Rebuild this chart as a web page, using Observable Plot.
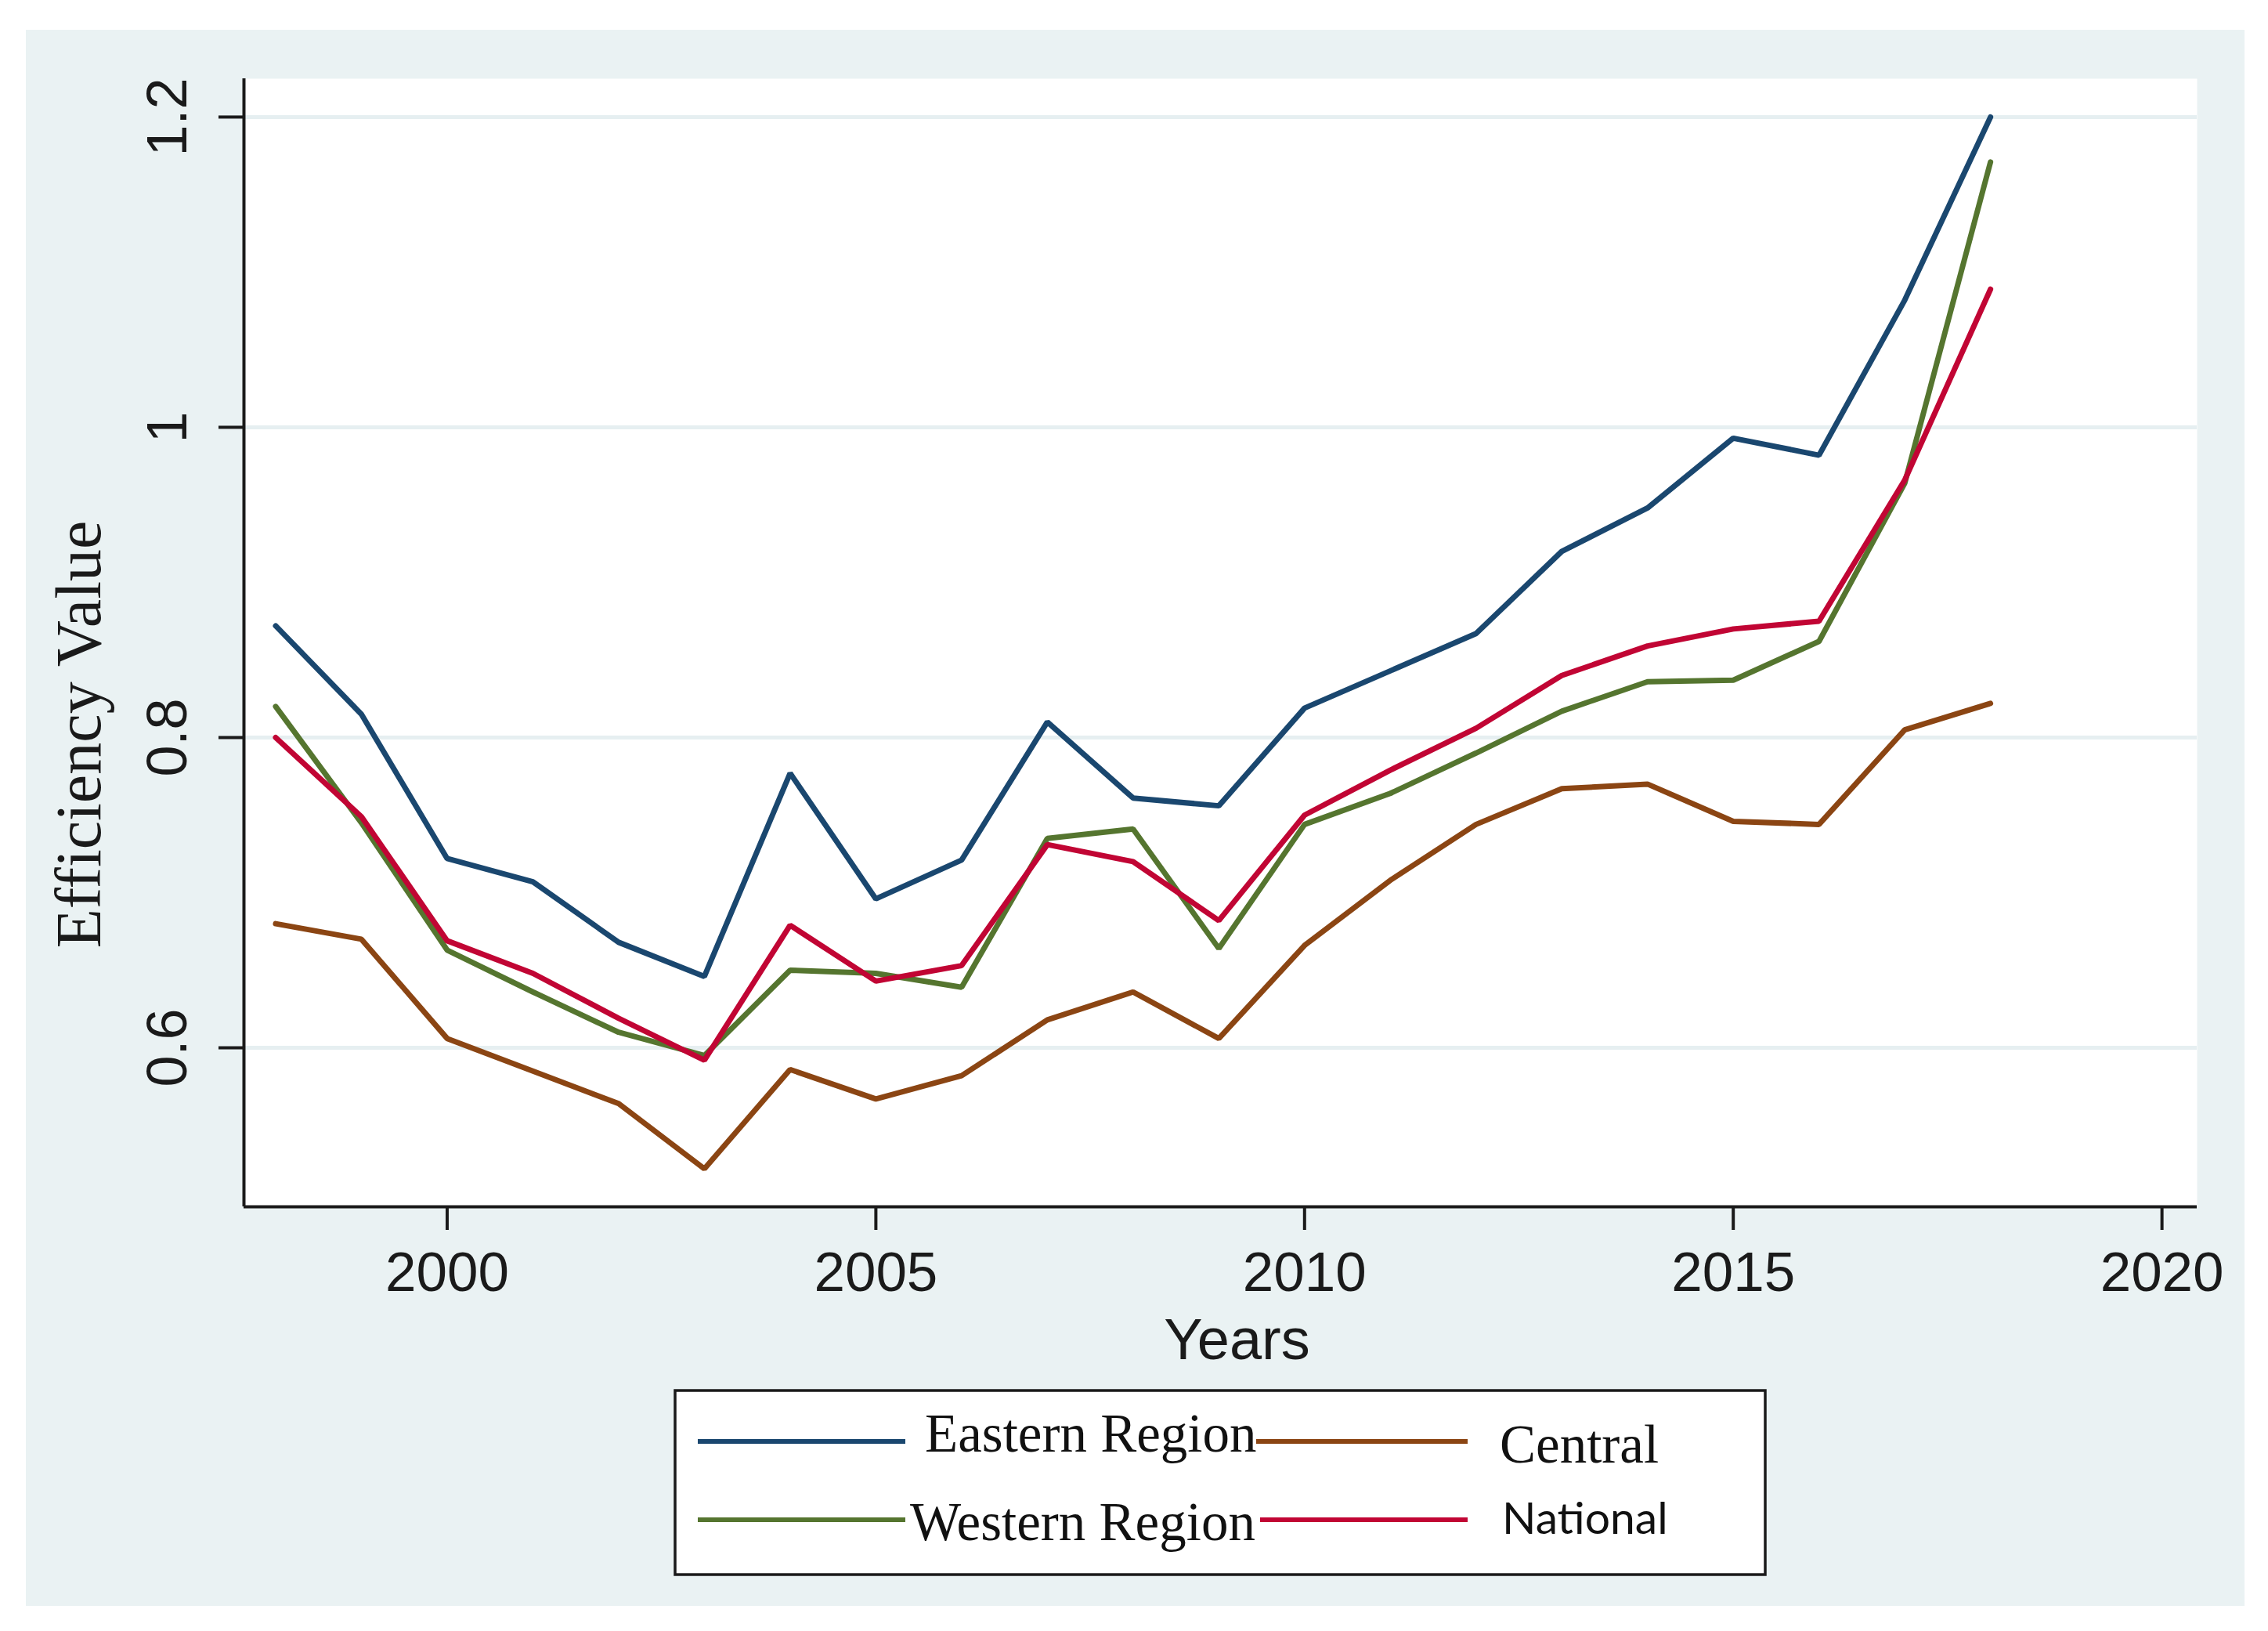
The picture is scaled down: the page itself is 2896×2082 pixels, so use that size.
<!DOCTYPE html>
<html>
<head>
<meta charset="utf-8">
<script src="https://cdn.jsdelivr.net/npm/d3@7"></script>
<script src="https://cdn.jsdelivr.net/npm/@observablehq/plot@0.6"></script>
<style>
  html, body { margin: 0; padding: 0; background: #ffffff; }
  #page { position: relative; width: 2896px; height: 2082px; background: #ffffff; overflow: hidden; }
  #panel { position: absolute; left: 33px; top: 38px; width: 2833px; height: 2012px; background: #eaf2f3; }
  #chart { position: absolute; left: 0; top: 0; }
  #legend { position: absolute; left: 0; top: 0; }
</style>
</head>
<body>
<div id="page">
  <div id="panel"></div>
  <div id="chart"></div>
  <svg id="legend" width="2896" height="2082"></svg>
</div>
<script>
// ---- data ----
const years = [1998,1999,2000,2001,2002,2003,2004,2005,2006,2007,2008,2009,2010,2011,2012,2013,2014,2015,2016,2017,2018];
const eastern  = [0.872,0.815,0.722,0.707,0.668,0.646,0.777,0.696,0.721,0.810,0.761,0.756,0.819,0.843,0.867,0.920,0.948,0.993,0.982,1.082,1.200];
const central  = [0.680,0.670,0.606,0.585,0.564,0.522,0.586,0.567,0.582,0.618,0.636,0.606,0.666,0.708,0.744,0.767,0.770,0.746,0.744,0.805,0.822];
const western  = [0.820,0.745,0.663,0.636,0.610,0.595,0.650,0.648,0.639,0.735,0.741,0.664,0.744,0.764,0.790,0.817,0.836,0.837,0.862,0.964,1.171];
const national = [0.800,0.749,0.669,0.648,0.619,0.592,0.679,0.643,0.653,0.731,0.720,0.682,0.750,0.779,0.806,0.840,0.859,0.870,0.875,0.966,1.089];

const seriesNames  = ["Eastern Region", "Central", "Western Region", "National"];
const seriesValues = [eastern, central, western, national];
const seriesColors = ["#1a476f", "#8b4513", "#55752f", "#c10534"];

const xTicks = [2000, 2005, 2010, 2015, 2020];
const yTicks = [0.6, 0.8, 1, 1.2];
const xTitle = "Years";
const yTitle = "Efficiency Value";

// long table for Plot
const rows = [];
seriesNames.forEach((name, s) => {
  years.forEach((yr, i) => rows.push({series: name, year: yr, value: seriesValues[s][i]}));
});

const W = 2896, H = 1760;
const xDomain = [1997.63, 2020.41];
const yDomain = [0.4975, 1.2247];

const chart = Plot.plot({
  width: W,
  height: H,
  marginLeft: 311,
  marginRight: 91,
  marginTop: 100,
  marginBottom: 220,
  style: {background: "transparent", overflow: "visible", color: "#1a1a1a"},
  x: {domain: xDomain},
  y: {domain: yDomain},
  color: {domain: seriesNames, range: seriesColors},
  marks: [
    Plot.frame({fill: "#ffffff", stroke: "none"}),
    Plot.gridY(yTicks, {stroke: "#e6eff1", strokeOpacity: 1, strokeWidth: 5}),
    Plot.line(rows, {x: "year", y: "value", z: "series", stroke: "series", strokeWidth: 7, strokeLinejoin: "miter"}),
    Plot.ruleY([yDomain[0]], {stroke: "#1a1a1a", strokeWidth: 4}),
    Plot.ruleX([xDomain[0]], {stroke: "#1a1a1a", strokeWidth: 4}),
    Plot.axisX(xTicks, {tickSize: 30, tickPadding: 27, strokeWidth: 4, fontSize: 71, fontFamily: "Liberation Sans", label: null, tickFormat: d => String(d)}),
    Plot.axisY(yTicks, {tickSize: 32, strokeWidth: 4, fill: "none", label: null}),
    Plot.text(yTicks, {y: d => d, text: d => String(d), frameAnchor: "left", textAnchor: "middle", rotate: -90, lineAnchor: "bottom", dx: -74, fontSize: 72, fontFamily: "Liberation Sans", fill: "#1a1a1a"}),
    Plot.text([yTitle], {text: d => d, frameAnchor: "left", textAnchor: "middle", rotate: -90, lineAnchor: "bottom", dx: -184, dy: 117, fontSize: 82, fontFamily: "Liberation Serif", fill: "#1a1a1a"}),
    Plot.text([xTitle], {text: d => d, frameAnchor: "bottom", textAnchor: "middle", lineAnchor: "bottom", dx: 21, dy: 194, fontSize: 74, fontFamily: "Liberation Sans", fill: "#1a1a1a"})
  ]
});
document.getElementById("chart").appendChild(chart);

// ---- legend ----
const lg = d3.select("#legend");
lg.append("rect").attr("x", 862).attr("y", 1775).attr("width", 1392).attr("height", 235)
  .attr("fill", "#ffffff").attr("stroke", "#1a1a1a").attr("stroke-width", 3.5);
const legendItems = [
  {i: 0, x1: 891,  x2: 1156, ly: 1840, tx: 1181, ty: 1853, font: "Liberation Serif", size: 69},
  {i: 1, x1: 1604, x2: 1874, ly: 1840, tx: 1915, ty: 1867, font: "Liberation Serif", size: 69},
  {i: 2, x1: 891,  x2: 1156, ly: 1940, tx: 1162, ty: 1966, font: "Liberation Serif", size: 69},
  {i: 3, x1: 1609, x2: 1874, ly: 1940, tx: 1918, ty: 1958, font: "Lato", size: 57}
];
legendItems.forEach(it => {
  lg.append("line").attr("x1", it.x1).attr("x2", it.x2).attr("y1", it.ly).attr("y2", it.ly)
    .attr("stroke", seriesColors[it.i]).attr("stroke-width", 6);
  lg.append("text").attr("x", it.tx).attr("y", it.ty)
    .attr("font-family", it.font).attr("font-size", it.size).attr("fill", "#111")
    .text(seriesNames[it.i]);
});
</script>
</body>
</html>
